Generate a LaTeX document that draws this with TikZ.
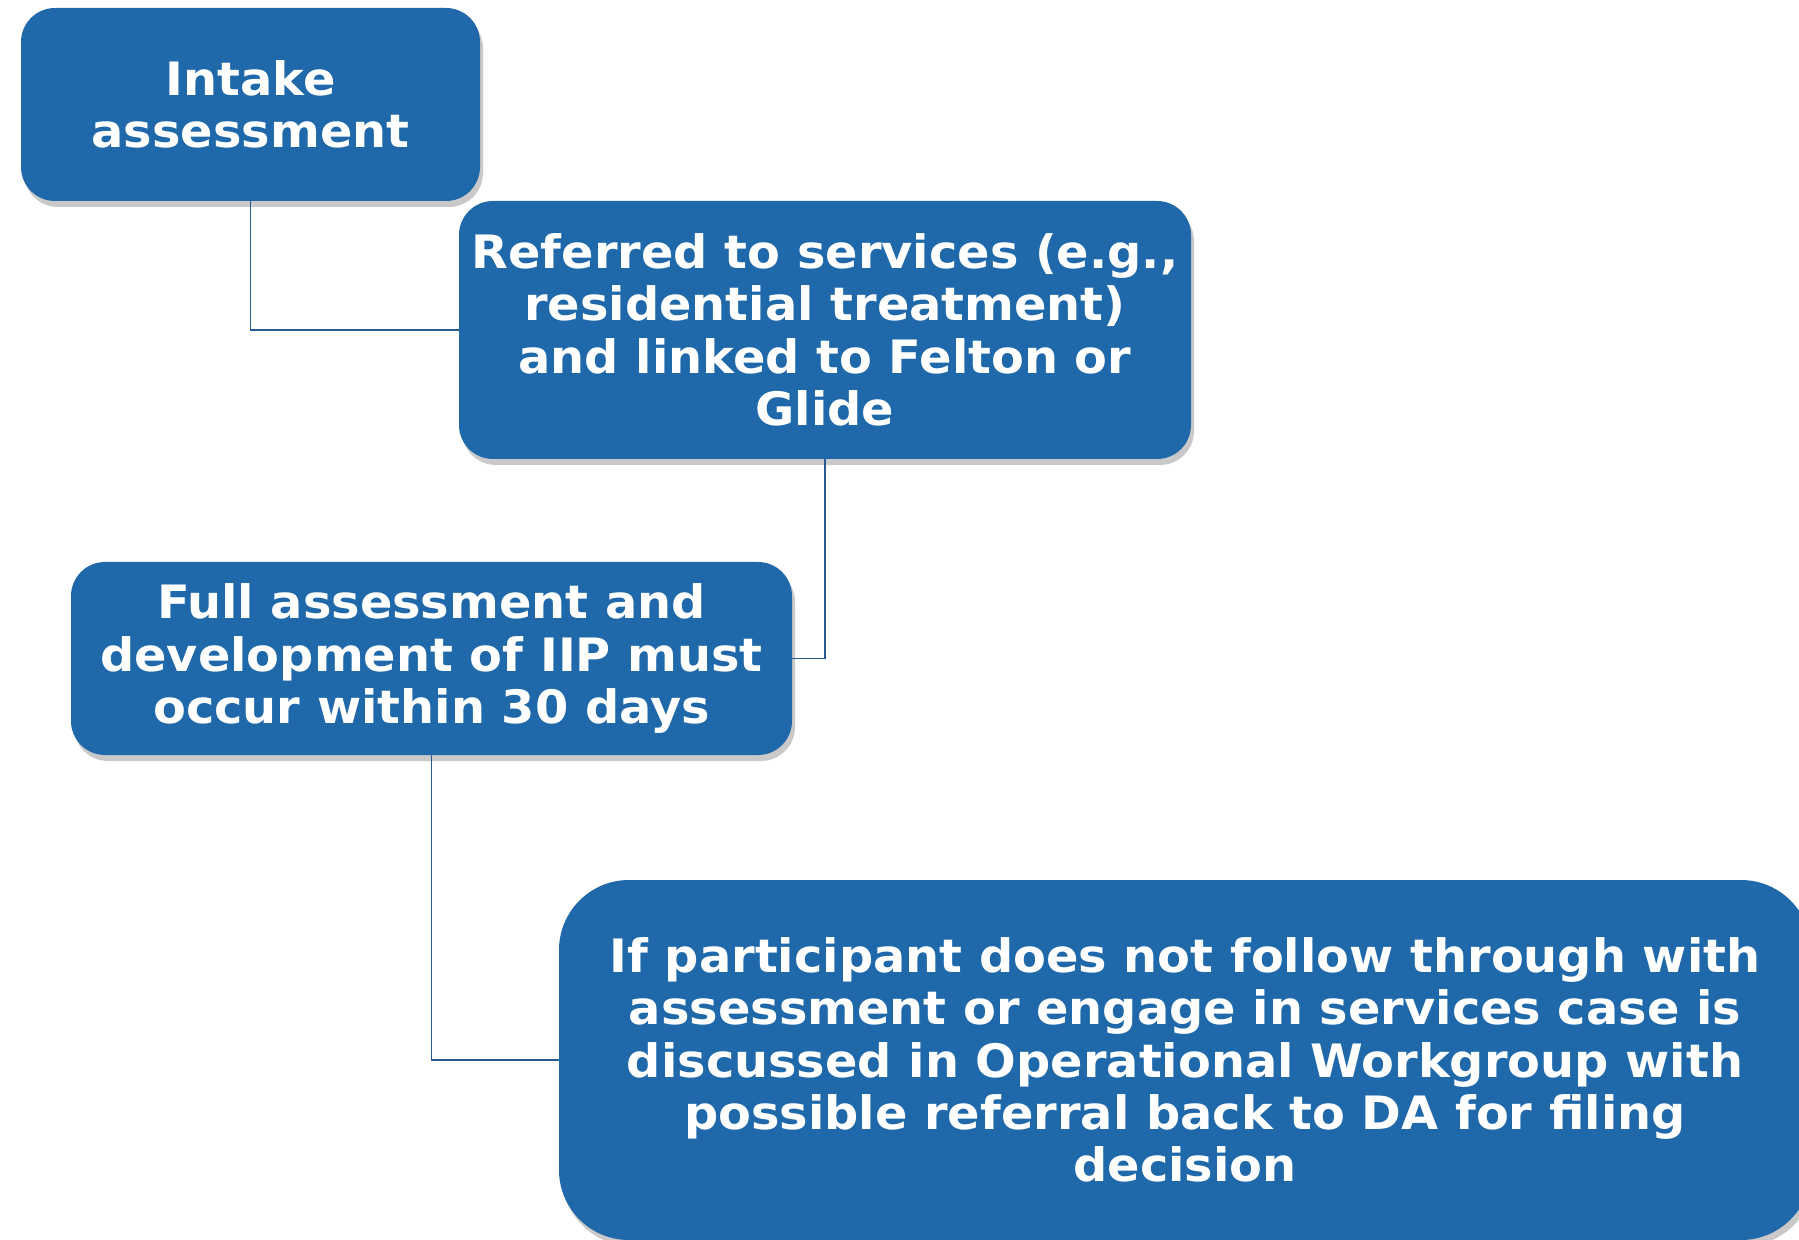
\documentclass[tikz,border=0pt]{standalone}
\usepackage{fontspec}
\setmainfont{DejaVu Sans}[FakeStretch=1.04]
\usetikzlibrary{shadows}
\definecolor{boxblue}{RGB}{31,105,171}
\definecolor{lineblue}{RGB}{40,90,145}
\begin{document}
\begin{tikzpicture}[x=0.5pt,y=-0.5pt,
  stepbox/.style={rectangle, rounded corners=17pt, fill=boxblue, draw=none,
    text=white, align=center, inner sep=0pt,
    font=\fontsize{23}{26.2}\selectfont\bfseries,
    drop shadow={shadow xshift=1.5pt, shadow yshift=-3pt, opacity=0.35, fill=black!60}},
  link/.style={draw=lineblue, line width=0.8pt}]
\useasboundingbox (0,0) rectangle (1799,1240);
\fill[white] (0,0) rectangle (1799,1240);
\node[stepbox, minimum width=229.5pt, minimum height=96.5pt] (intake) at (250.5,104.5)
  {Intake\\assessment};
\node[stepbox, minimum width=366pt, minimum height=129pt] (refer) at (825,330)
  {Referred to services (e.g.,\\residential treatment)\\and linked to Felton or\\Glide};
\node[stepbox, minimum width=360.5pt, minimum height=96.5pt] (full) at (431.5,658.5)
  {Full assessment and\\development of IIP must\\occur within 30 days};
\node[stepbox, rounded corners=35pt, minimum width=626pt, minimum height=180pt] (ifnot) at (1185,1060)
  {If participant does not follow through with\\assessment or engage in services case is\\discussed in Operational Workgroup with\\possible referral back to DA for filing\\decision};
\draw[link] (intake.south) |- (refer.west);
\draw[link] (refer.south) |- (full.east);
\draw[link] (full.south) |- (ifnot.west);
\end{tikzpicture}
\end{document}
